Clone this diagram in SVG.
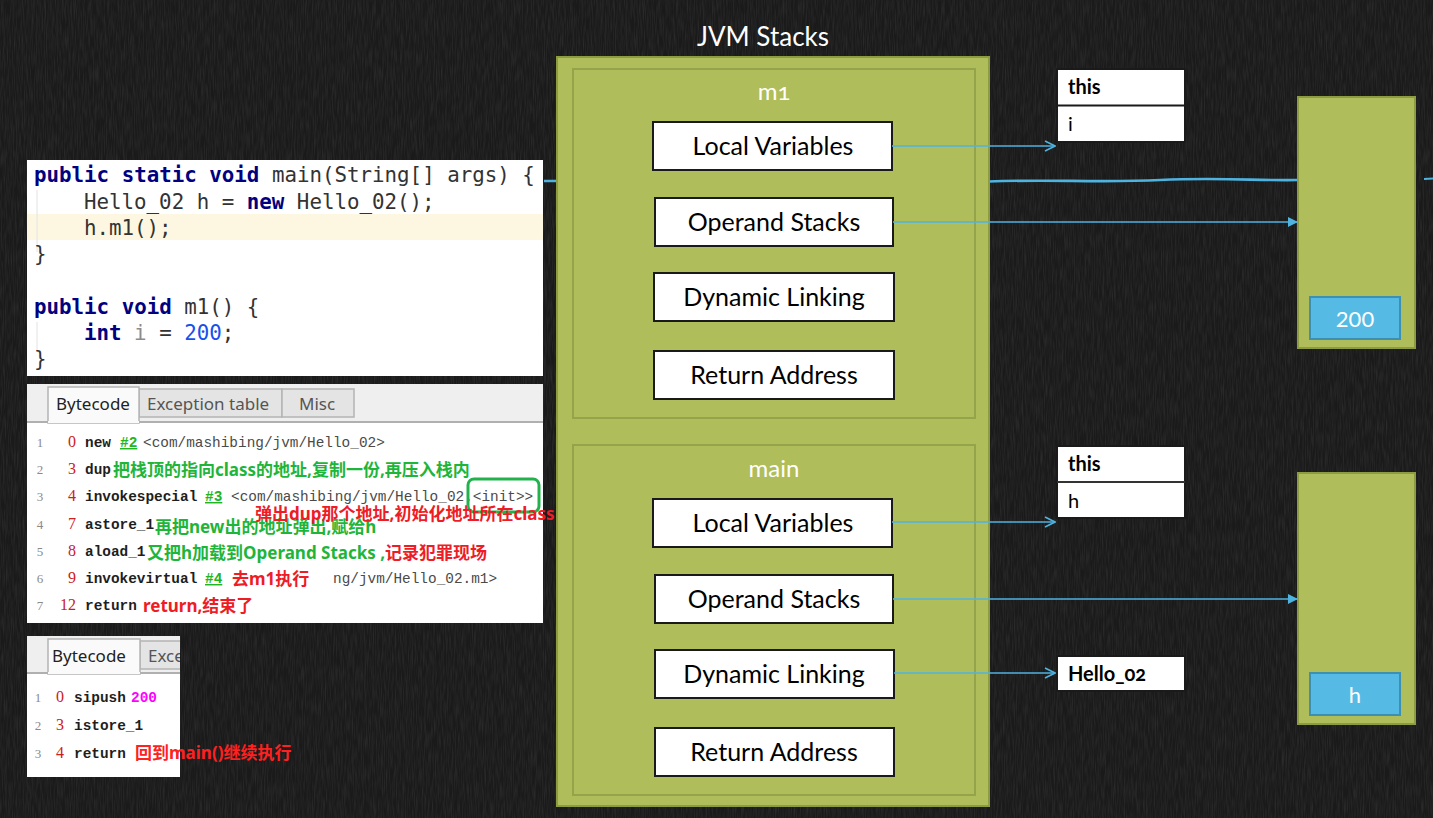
<svg xmlns="http://www.w3.org/2000/svg" width="1433" height="818" viewBox="0 0 1433 818">
  <defs>
    <style>
      .frame-outer { fill: #afbd5a; stroke: #8d9c40; stroke-width: 2; }
      .frame-inner { fill: #afbd5a; stroke: #95a44a; stroke-width: 2; }
      .slot { fill: #ffffff; stroke: #1a1a1a; stroke-width: 2; }
      .slot-text { font-family: Lato, "Noto Sans", sans-serif; font-size: 25px; fill: #000; text-anchor: middle; }
      .title { font-family: Lato, "Noto Sans", sans-serif; font-size: 26px; fill: #ffffff; text-anchor: middle; }
      .frame-name { font-family: Lato, "Noto Sans", sans-serif; font-size: 24px; fill: #ffffff; text-anchor: middle; font-variant-numeric: oldstyle-nums; }
      .table { fill: #ffffff; stroke: #1a1a1a; stroke-width: 2; }
      .cell-b { font-family: Lato, "Noto Sans", sans-serif; font-size: 20px; font-weight: bold; fill: #000; font-variant-numeric: oldstyle-nums; }
      .cell { font-family: Lato, "Noto Sans", sans-serif; font-size: 20px; fill: #000; }
      .heap { fill: #afbd5a; stroke: #8d9c40; stroke-width: 2; }
      .item { fill: #55bbe4; stroke: #3e90b2; stroke-width: 2; }
      .item-text { font-family: Lato, "Noto Sans", sans-serif; font-size: 22px; fill: #ffffff; text-anchor: middle; }
      .conn { stroke: #4fb3e0; stroke-width: 1.6; fill: none; }
      .panel { fill: #ffffff; }
      .code { font-family: "DejaVu Sans Mono", "Liberation Mono", monospace; font-size: 20.8px; fill: #333333; }
      .kw { fill: #000080; font-weight: bold; }
      .num { fill: #1750eb; }
      .unused { fill: #8c8c8c; }
      .tabbar { fill: #efefef; }
      .tab-on { fill: #fafafa; stroke: #b4b4b4; stroke-width: 1.5; }
      .tab-off { fill: #e4e4e4; stroke: #b4b4b4; stroke-width: 1.5; }
      .tab-text { font-family: "Noto Sans", "Liberation Sans", sans-serif; font-size: 17px; fill: #222; }
      .tab-text-off { font-family: "Noto Sans", "Liberation Sans", sans-serif; font-size: 17px; fill: #555; }
      .ln { font-family: "Liberation Serif", serif; font-size: 13px; fill: #8a8a8a; text-anchor: middle; }
      .off { font-family: "Liberation Serif", serif; font-size: 16px; fill: #cc2020; text-anchor: end; }
      .op { font-family: "Liberation Mono", monospace; font-size: 14.4px; font-weight: bold; fill: #1e1e1e; }
      .arg { font-family: "Liberation Mono", monospace; font-size: 14.4px; fill: #4a4a4a; }
      .ref { font-family: "Liberation Mono", monospace; font-size: 14.4px; font-weight: bold; fill: #22b522; text-decoration: underline; }
      .note-g { font-family: "Noto Sans", "Noto Sans CJK SC", sans-serif; font-size: 17px; font-weight: bold; fill: #1fb53a; }
      .note-r { font-family: "Noto Sans", "Noto Sans CJK SC", sans-serif; font-size: 17px; font-weight: bold; fill: #ee1c25; }
    </style>
    <marker id="open" viewBox="0 0 12 12" refX="11" refY="6" markerWidth="12" markerHeight="12" markerUnits="userSpaceOnUse" orient="auto">
      <path d="M1,1 L11,6 L1,11" fill="none" stroke="#4fb3e0" stroke-width="1.6"/>
    </marker>
    <marker id="solid" viewBox="0 0 10 10" refX="10" refY="5" markerWidth="10" markerHeight="10" markerUnits="userSpaceOnUse" orient="auto">
      <path d="M0,0 L10,5 L0,10 Z" fill="#4fb3e0"/>
    </marker>
    <filter id="chalk" x="0" y="0" width="100%" height="100%">
      <feTurbulence type="fractalNoise" baseFrequency="0.9 0.06" numOctaves="2" seed="4" result="n"/>
      <feColorMatrix in="n" type="matrix" values="0 0 0 0 1  0 0 0 0 1  0 0 0 0 1  0 0 0 0.4 -0.14"/>
    </filter>
    <clipPath id="clip-bc2">
      <rect x="27" y="636" width="153" height="141"/>
    </clipPath>
  </defs>

  <!-- chalkboard background -->
  <rect width="1433" height="818" fill="#1a1a1a"/>
  <rect width="1433" height="818" filter="url(#chalk)" opacity="0.35"/>

  <!-- chalk stroke running behind the stack -->
  <path d="M544,181 L700,180.5 L989,181.5 C1050,179 1100,183 1160,180 S1260,181 1298,180" stroke="#4fb3e0" stroke-width="2.6" fill="none"/>
  <path d="M1424,179 L1433,178.5" stroke="#4fb3e0" stroke-width="2" fill="none"/>

  <!-- JVM stack -->
  <g id="jvm-stacks">
    <text class="title" x="763" y="46">JVM Stacks</text>
    <rect class="frame-outer" x="557" y="57" width="432" height="749"/>
  </g>

  <g id="frame-m1">
    <rect class="frame-inner" x="573" y="69" width="402" height="349"/>
    <text class="frame-name" x="774" y="100">m1</text>
  </g>
  <g id="m1-local-variables">
    <rect class="slot" x="653" y="122" width="239" height="48"/>
    <text class="slot-text" x="773" y="155">Local Variables</text>
  </g>
  <g id="m1-operand-stacks">
    <rect class="slot" x="655" y="198" width="238" height="48"/>
    <text class="slot-text" x="774" y="231">Operand Stacks</text>
  </g>
  <g id="m1-dynamic-linking">
    <rect class="slot" x="654" y="273" width="240" height="48"/>
    <text class="slot-text" x="774" y="306">Dynamic Linking</text>
  </g>
  <g id="m1-return-address">
    <rect class="slot" x="654" y="351" width="240" height="48"/>
    <text class="slot-text" x="774" y="384">Return Address</text>
  </g>

  <g id="frame-main">
    <rect class="frame-inner" x="573" y="445" width="402" height="350"/>
    <text class="frame-name" x="774" y="477">main</text>
  </g>
  <g id="main-local-variables">
    <rect class="slot" x="653" y="499" width="239" height="48"/>
    <text class="slot-text" x="773" y="532">Local Variables</text>
  </g>
  <g id="main-operand-stacks">
    <rect class="slot" x="655" y="575" width="238" height="48"/>
    <text class="slot-text" x="774" y="608">Operand Stacks</text>
  </g>
  <g id="main-dynamic-linking">
    <rect class="slot" x="655" y="650" width="239" height="48"/>
    <text class="slot-text" x="774" y="683">Dynamic Linking</text>
  </g>
  <g id="main-return-address">
    <rect class="slot" x="655" y="728" width="239" height="48"/>
    <text class="slot-text" x="774" y="761">Return Address</text>
  </g>

  <!-- local variable tables -->
  <g id="m1-locals">
    <rect class="table" x="1057" y="69" width="128" height="73"/>
    <line x1="1057" y1="105.5" x2="1185" y2="105.5" stroke="#1a1a1a" stroke-width="2"/>
    <text class="cell-b" x="1068" y="94">this</text>
    <text class="cell" x="1068" y="131">i</text>
  </g>
  <g id="main-locals">
    <rect class="table" x="1057" y="446" width="128" height="72"/>
    <line x1="1057" y1="482" x2="1185" y2="482" stroke="#333" stroke-width="2"/>
    <text class="cell-b" x="1068" y="471">this</text>
    <text class="cell" x="1068" y="508">h</text>
  </g>
  <g id="class-ref">
    <rect class="table" x="1057" y="656" width="128" height="35"/>
    <text class="cell-b" x="1068" y="681">Hello_02</text>
  </g>

  <!-- operand stacks -->
  <g id="m1-operand-stack">
    <rect class="heap" x="1298" y="97" width="117" height="251"/>
    <rect class="item" x="1310" y="297" width="90" height="42"/>
    <text class="item-text" x="1355" y="327">200</text>
  </g>
  <g id="main-operand-stack">
    <rect class="heap" x="1298" y="473" width="117" height="251"/>
    <rect class="item" x="1310" y="673" width="90" height="42"/>
    <text class="item-text" x="1355" y="703">h</text>
  </g>

  <!-- connectors -->
  <g id="connectors">
    <line class="conn" x1="892" y1="146" x2="1055" y2="146" marker-end="url(#open)"/>
    <line class="conn" x1="893" y1="222" x2="1298" y2="222" marker-end="url(#solid)"/>
    <line class="conn" x1="892" y1="522" x2="1055" y2="522" marker-end="url(#open)"/>
    <line class="conn" x1="893" y1="599" x2="1298" y2="599" marker-end="url(#solid)"/>
    <line class="conn" x1="894" y1="673" x2="1055" y2="673" marker-end="url(#open)"/>
  </g>

  <!-- Java source -->
  <g id="source">
    <rect class="panel" x="27" y="160" width="516" height="216"/>
    <rect x="27" y="214" width="516" height="26" fill="#fdf7e1"/>
    <line x1="37" y1="190" x2="37" y2="252" stroke="#e2e2e2" stroke-width="1"/>
    <line x1="37" y1="322" x2="37" y2="350" stroke="#e2e2e2" stroke-width="1"/>
    <text class="code" x="34" y="182"><tspan class="kw">public static void</tspan> main(String[] args) {</text>
    <text class="code" x="84" y="208.5">Hello_02 h = <tspan class="kw">new</tspan> Hello_02();</text>
    <text class="code" x="84" y="235">h.m1();</text>
    <text class="code" x="34" y="261">}</text>
    <text class="code" x="34" y="314"><tspan class="kw">public void</tspan> m1() {</text>
    <text class="code" x="84" y="340"><tspan class="kw">int</tspan> <tspan class="unused">i</tspan> = <tspan class="num">200</tspan>;</text>
    <text class="code" x="34" y="366">}</text>
  </g>

  <!-- bytecode of main -->
  <g id="bytecode-main">
    <rect class="panel" x="27" y="384" width="516" height="239"/>
    <rect class="tabbar" x="27" y="384" width="516" height="38"/>
    <rect class="tab-off" x="139" y="389" width="143" height="28"/>
    <rect class="tab-off" x="282" y="389" width="72" height="28"/>
    <rect class="tab-on" x="48" y="387" width="91" height="36"/>
    <line x1="27" y1="422" x2="543" y2="422" stroke="#b0b0b0" stroke-width="2"/>
    <line x1="139" y1="422" x2="48" y2="422" stroke="#fafafa" stroke-width="2"/>
    <text class="tab-text" x="56" y="410">Bytecode</text>
    <text class="tab-text-off" x="147" y="410">Exception table</text>
    <text class="tab-text-off" x="299" y="410">Misc</text>

    <text class="ln" x="40" y="447">1</text>
    <text class="ln" x="40" y="474">2</text>
    <text class="ln" x="40" y="501">3</text>
    <text class="ln" x="40" y="529">4</text>
    <text class="ln" x="40" y="556">5</text>
    <text class="ln" x="40" y="583">6</text>
    <text class="ln" x="40" y="610">7</text>

    <text class="off" x="76" y="447">0</text>
    <text class="off" x="76" y="474">3</text>
    <text class="off" x="76" y="501">4</text>
    <text class="off" x="76" y="529">7</text>
    <text class="off" x="76" y="556">8</text>
    <text class="off" x="76" y="583">9</text>
    <text class="off" x="76" y="610">12</text>

    <text class="op" x="85" y="447">new</text>
    <text class="ref" x="120" y="447">#2</text>
    <text class="arg" x="143" y="447">&lt;com/mashibing/jvm/Hello_02&gt;</text>

    <text class="op" x="85" y="474">dup</text>
    <text class="note-g" x="113" y="476">把栈顶的指向class的地址,复制一份,再压入栈内</text>

    <text class="op" x="85" y="501">invokespecial</text>
    <text class="ref" x="205" y="501">#3</text>
    <text class="arg" x="231" y="501">&lt;com/mashibing/jvm/Hello_02.&lt;init&gt;&gt;</text>
    <rect x="468" y="479" width="71" height="33" rx="6" fill="none" stroke="#22b24c" stroke-width="3"/>

    <text class="op" x="85" y="529">astore_1</text>
    <text class="note-g" x="155" y="533">再把new出的地址弹出,赋给h</text>
    <text class="note-r" x="255" y="520">弹出dup那个地址,初始化地址所在class</text>

    <text class="op" x="85" y="556">aload_1</text>
    <text class="note-g" x="147" y="559">又把h加载到Operand Stacks ,<tspan fill="#ee1c25">记录犯罪现场</tspan></text>

    <text class="op" x="85" y="583">invokevirtual</text>
    <text class="ref" x="205" y="583">#4</text>
    <text class="note-r" x="232" y="585">去m1执行</text>
    <text class="arg" x="333" y="583">ng/jvm/Hello_02.m1&gt;</text>

    <text class="op" x="85" y="610">return</text>
    <text class="note-r" x="143" y="612">return,结束了</text>
  </g>

  <!-- bytecode of m1 -->
  <g id="bytecode-m1">
    <g clip-path="url(#clip-bc2)">
      <rect class="panel" x="27" y="636" width="153" height="141"/>
      <rect class="tabbar" x="27" y="636" width="153" height="37"/>
      <rect class="tab-off" x="140" y="641" width="80" height="28"/>
      <rect class="tab-on" x="48" y="639" width="92" height="35"/>
      <line x1="27" y1="673" x2="180" y2="673" stroke="#b0b0b0" stroke-width="2"/>
      <line x1="140" y1="673" x2="48" y2="673" stroke="#fafafa" stroke-width="2"/>
      <text class="tab-text" x="52" y="662">Bytecode</text>
      <text class="tab-text-off" x="148" y="662">Exception table</text>
    </g>
    <text class="ln" x="38" y="702">1</text>
    <text class="ln" x="38" y="730">2</text>
    <text class="ln" x="38" y="758">3</text>
    <text class="off" x="64" y="702">0</text>
    <text class="off" x="64" y="730">3</text>
    <text class="off" x="64" y="758">4</text>
    <text class="op" x="74" y="702">sipush</text>
    <text class="op" x="131" y="702" style="fill:#ff00ff">200</text>
    <text class="op" x="74" y="730">istore_1</text>
    <text class="op" x="74" y="758">return</text>
    <text class="note-r" x="135" y="759" style="fill:#ff2020">回到main()继续执行</text>
  </g>
</svg>
